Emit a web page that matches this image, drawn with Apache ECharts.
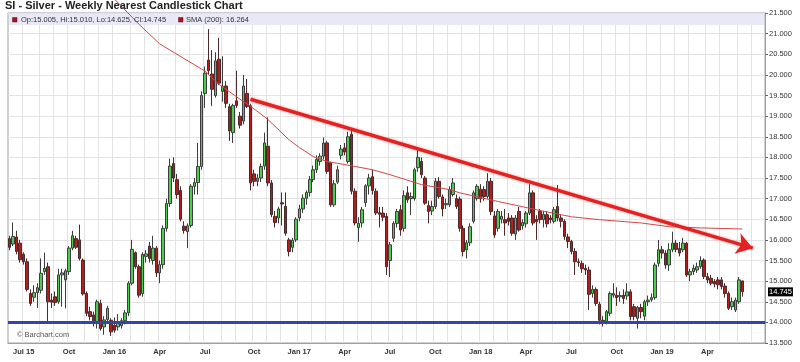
<!DOCTYPE html>
<html><head><meta charset="utf-8">
<script src="https://cdn.jsdelivr.net/npm/echarts@6/dist/echarts.min.js"></script>
<style>html,body{margin:0;padding:0;background:#fff}#c{width:800px;height:362px}</style>
</head><body><div id="c"></div>
<script>
// ---------- data ----------
const firstWeek = '2015-06-05';   // first weekly bar (Friday)
const weeksOnAxis = 217;          // 211 bars + empty weeks to the right edge
// weekly bars: [open, high, low, close]
const ohlc = [
[16.03,16.10,15.75,15.82],[15.90,16.42,15.85,16.08],[16.07,16.22,15.65,15.72],[15.92,16.00,15.45,15.52],
[15.65,15.70,15.40,15.47],[15.47,15.55,14.75,14.80],[14.70,14.80,14.40,14.46],[14.61,14.90,14.50,14.72],
[14.72,14.95,14.35,14.84],[14.78,15.55,14.70,15.19],[15.23,15.69,15.15,15.31],[15.35,15.45,14.00,14.50],
[14.54,14.70,14.35,14.49],[14.62,14.75,14.40,14.48],[14.50,15.30,14.45,15.15],[15.15,15.30,14.38,15.20],
[15.03,15.30,14.34,15.25],[15.23,15.85,15.15,15.80],[15.80,16.22,15.75,16.10],[16.03,16.10,15.78,15.82],
[16.00,16.37,15.50,15.55],[15.51,15.55,14.65,14.69],[14.70,14.75,14.15,14.22],[14.26,14.38,14.05,14.14],
[14.18,14.26,13.90,13.97],[13.97,14.55,13.85,14.50],[14.46,14.55,13.80,13.85],[13.89,14.15,13.70,14.06],
[14.07,14.40,14.00,14.34],[14.05,14.10,13.67,13.77],[13.93,14.12,13.75,13.81],[13.89,14.20,13.80,13.99],
[13.92,14.10,13.85,14.04],[14.04,14.30,13.95,14.23],[14.23,15.00,14.15,14.95],[14.95,16.00,14.90,15.77],
[15.69,15.72,15.30,15.35],[15.35,15.40,14.60,14.66],[14.70,15.70,14.62,15.65],[15.60,15.75,15.45,15.66],
[15.85,15.95,15.45,15.55],[15.50,16.10,15.40,15.80],[15.80,15.85,15.10,15.20],[15.20,15.50,14.95,15.40],
[15.40,16.35,15.30,16.28],[16.28,17.00,16.20,16.88],[16.88,17.97,16.80,17.79],[17.85,18.00,17.40,17.50],
[17.46,17.60,17.00,17.10],[17.20,17.30,16.45,16.50],[16.33,16.45,16.15,16.23],[16.20,16.40,15.80,16.34],
[16.35,17.35,16.30,17.30],[17.30,17.50,17.10,17.39],[17.39,18.35,17.10,17.78],[17.78,19.60,17.70,19.50],
[19.55,20.20,19.20,20.04],[20.36,21.11,20.00,20.10],[20.02,20.60,19.25,19.65],[19.50,20.55,19.45,20.34],
[20.38,20.90,19.75,19.80],[19.60,20.45,19.35,19.72],[19.73,19.85,19.20,19.31],[19.23,19.30,18.40,18.64],
[18.60,19.30,18.35,19.26],[19.37,20.10,19.20,19.26],[19.00,19.10,18.70,18.78],[18.88,20.00,18.80,19.73],
[19.55,19.90,19.20,19.23],[19.25,19.30,17.20,17.38],[17.60,17.70,17.30,17.42],[17.42,17.60,17.30,17.50],
[17.50,17.85,17.40,17.78],[17.79,18.60,17.70,18.35],[18.27,18.97,17.30,17.38],[17.38,17.45,16.55,16.61],
[16.57,16.70,16.30,16.42],[16.53,16.80,16.40,16.75],[16.90,17.15,16.35,16.87],[16.81,17.15,16.10,16.16],
[16.00,16.05,15.60,15.72],[15.82,16.05,15.70,15.99],[16.00,16.55,15.95,16.50],[16.53,16.85,16.45,16.75],
[16.75,17.10,16.65,17.01],[17.01,17.20,16.85,17.15],[17.15,17.55,17.05,17.46],[17.46,17.80,17.40,17.70],
[17.70,18.05,17.62,17.95],[17.90,18.10,17.80,18.03],[18.03,18.48,17.95,18.35],[18.35,18.40,17.60,17.66],
[17.87,17.90,16.80,16.85],[16.85,17.45,16.80,17.36],[17.40,17.80,17.35,17.70],[18.05,18.30,17.95,18.20],
[18.23,18.35,18.05,18.13],[17.90,18.62,17.85,18.50],[18.56,18.65,17.10,17.18],[17.18,17.25,16.35,16.41],
[16.30,16.55,15.95,16.40],[16.41,16.80,16.30,16.73],[16.90,17.35,16.80,17.31],[17.31,17.60,17.10,17.50],
[17.53,17.70,17.10,17.20],[17.18,17.25,16.60,16.65],[16.66,16.80,16.30,16.62],[16.65,16.80,16.45,16.55],
[16.57,16.65,15.15,15.35],[15.50,15.95,15.10,15.88],[16.04,16.45,15.95,16.40],[16.40,16.75,16.30,16.69],
[16.73,16.85,16.10,16.24],[16.28,17.20,16.20,17.07],[17.14,17.30,16.90,16.97],[17.00,17.15,16.60,17.05],
[17.00,17.75,16.95,17.70],[17.75,18.19,17.65,18.00],[17.90,18.00,17.50,17.58],[17.50,17.55,16.85,16.89],
[16.83,16.95,16.40,16.69],[16.70,16.95,16.60,16.81],[16.81,17.50,16.75,17.42],[17.42,17.52,17.00,17.05],
[17.04,17.10,16.57,16.75],[16.85,17.00,16.75,16.88],[16.85,17.30,16.80,17.22],[17.10,17.50,17.05,17.38],
[17.00,17.10,16.75,16.81],[16.99,17.05,16.20,16.28],[16.28,16.35,15.60,15.72],[15.76,16.00,15.55,15.93],
[15.93,16.40,15.85,16.32],[16.45,17.20,16.40,17.14],[17.00,17.35,16.95,17.30],[17.23,17.35,16.90,17.00],
[17.22,17.30,16.95,17.05],[17.05,17.62,17.00,17.42],[17.42,17.50,16.60,16.69],[16.58,16.70,16.05,16.12],
[16.28,16.75,16.20,16.69],[16.50,16.70,16.40,16.57],[16.49,16.75,16.10,16.41],[16.53,16.65,16.35,16.45],
[16.53,16.60,16.10,16.16],[16.14,16.60,16.00,16.53],[16.69,16.80,16.20,16.24],[16.34,16.50,16.25,16.42],
[16.39,16.70,16.30,16.65],[16.65,17.35,16.60,17.14],[17.14,17.20,16.35,16.41],[16.50,16.60,16.00,16.44],
[16.69,16.75,16.40,16.49],[16.49,16.70,16.30,16.62],[16.61,16.70,16.30,16.39],[16.53,16.60,16.40,16.49],
[16.45,16.80,16.40,16.73],[16.81,17.33,16.45,16.53],[16.53,16.60,16.30,16.45],[16.45,16.50,16.00,16.08],
[16.07,16.15,15.80,15.96],[15.96,16.00,15.65,15.72],[15.72,15.80,15.15,15.47],[15.47,15.55,15.35,15.45],
[15.43,15.50,15.20,15.30],[15.31,15.40,15.15,15.27],[15.27,15.35,14.30,14.68],[14.70,14.90,14.60,14.80],
[14.80,14.85,14.40,14.46],[14.44,14.50,13.95,14.05],[14.05,14.15,13.90,14.01],[14.01,14.30,13.95,14.26],
[14.22,14.75,14.15,14.70],[14.66,14.95,14.60,14.70],[14.66,14.85,14.40,14.60],[14.62,14.75,14.50,14.65],
[14.66,14.80,14.45,14.58],[14.64,14.95,14.55,14.74],[14.74,14.80,14.05,14.14],[14.38,14.45,14.05,14.14],
[14.10,14.40,13.85,14.36],[14.36,14.45,14.10,14.26],[14.15,14.55,14.05,14.50],[14.50,14.65,14.40,14.54],
[14.55,14.70,14.50,14.60],[14.60,15.45,14.55,15.39],[15.43,16.00,15.35,15.76],[15.76,15.85,15.55,15.68],
[15.68,15.75,15.30,15.39],[15.39,15.92,15.25,15.76],[15.76,16.20,15.70,15.92],[15.92,16.00,15.70,15.77],
[15.79,15.95,15.60,15.68],[15.76,16.05,15.70,15.92],[15.92,15.95,15.10,15.15],[15.15,15.30,15.00,15.23],
[15.23,15.40,15.15,15.31],[15.27,15.45,15.20,15.35],[15.35,15.60,15.30,15.50],[15.51,15.55,15.05,15.11],
[15.11,15.20,14.95,15.03],[15.07,15.15,14.90,14.95],[14.99,15.05,14.85,14.93],[15.03,15.10,14.80,14.91],
[15.03,15.10,14.80,14.87],[14.88,14.95,14.60,14.70],[14.70,14.75,14.30,14.34],[14.38,14.60,14.30,14.50],
[14.30,14.60,14.25,14.54],[14.50,15.10,14.45,15.03],[15.005,15.010,14.625,14.745]
];
// 200-week SMA, read at these week positions: [weekIndex, value]
const smaPoints = [[22,22.45],[30,21.84],[37,21.23],[43,20.75],[56,20.09],[60,19.77],[66,19.41],[69,19.24],
[74,18.92],[80,18.43],[83,18.24],[87,18.02],[91,17.90],[99,17.78],[104,17.70],[109,17.58],[118,17.34],
[126,17.22],[129,17.14],[140,16.93],[151,16.73],[161,16.56],[169,16.49],[181,16.41],[189,16.32],[198,16.29],[210,16.264]];
// hand-drawn trend line: [weekIndex, price]
const trendStart = [69, 19.41];
const trendEnd = [213, 15.80];
const supportLevel = 14.0;
const tickLabels = [['2015-07-03','Jul 15'],['2015-10-02','Oct'],['2016-01-01','Jan 16'],['2016-04-01','Apr'],
['2016-07-01','Jul'],['2016-10-07','Oct'],['2017-01-06','Jan 17'],['2017-04-07','Apr'],['2017-07-07','Jul'],
['2017-10-06','Oct'],['2018-01-05','Jan 18'],['2018-04-06','Apr'],['2018-07-06','Jul'],['2018-10-05','Oct'],
['2019-01-04','Jan 19'],['2019-04-05','Apr']];
const yMin = 13.5, yMax = 21.5, yStep = 0.5;

// ---------- build ----------
const t0 = Date.parse(firstWeek + 'T00:00:00Z');
const categories = [];
for (let i = 0; i < weeksOnAxis; i++) categories.push(new Date(t0 + i * 7 * 86400000).toISOString().slice(0, 10));
const labelMap = new Map(tickLabels);
const monthStart = new Set(categories.filter((d, i) => i > 0 && d.slice(0, 7) !== categories[i - 1].slice(0, 7)));
const candleData = ohlc.map(r => [r[0], r[3], r[2], r[1]]);
const last = ohlc[ohlc.length - 1];
const smaLast = smaPoints[smaPoints.length - 1][1];
const FONT = '"Liberation Sans", Arial, sans-serif';

const chart = echarts.init(document.getElementById('c'), null, {renderer: 'canvas'});
chart.setOption({
  animation: false,
  backgroundColor: '#fff',
  textStyle: {fontFamily: FONT},
  grid: {left: 8, right: 35, top: 13, bottom: 19, show: true, borderColor: '#a0a0a0', borderWidth: 1, containLabel: false},
  xAxis: {
    type: 'category', data: categories, boundaryGap: true,
    axisLine: {show: true, lineStyle: {color: '#a0a0a0'}},
    axisTick: {show: false},
    axisLabel: {
      interval: (idx, val) => labelMap.has(val),
      formatter: val => labelMap.get(val) || '',
      fontSize: 7.5, fontWeight: 'bold', color: '#333', margin: 5, fontFamily: FONT
    },
    splitLine: {show: true, interval: (idx, val) => monthStart.has(val), lineStyle: {color: '#e3e3e3', width: 1}}
  },
  yAxis: {
    type: 'value', position: 'right', min: yMin, max: yMax, interval: yStep, scale: true,
    axisLine: {show: true, lineStyle: {color: '#a0a0a0'}},
    axisTick: {show: true, length: 3, lineStyle: {color: '#666'}},
    axisLabel: {formatter: v => v.toFixed(3), fontSize: 7.5, color: '#333', margin: 4, fontFamily: FONT},
    splitLine: {show: true, lineStyle: {color: '#e3e3e3', width: 1}}
  },
  series: [
    {
      type: 'candlestick', data: candleData, barWidth: 3, z: 3,
      itemStyle: {color: '#4dcc4d', color0: '#b01e1e', borderColor: '#3d3d3d', borderColor0: '#4a2a2a', borderWidth: 1},
      markLine: {
        silent: true, symbol: 'none', animation: false,
        data: [
          {yAxis: supportLevel, lineStyle: {color: '#3444ae', width: 3, type: 'solid'}, label: {show: false}},
          {yAxis: last[3], lineStyle: {color: 'rgba(0,0,0,0)', width: 1}, label: {show: true, position: 'end', distance: 3,
            formatter: last[3].toFixed(3), backgroundColor: '#000', color: '#fff', padding: [1, 1, 0, 1], fontSize: 7.5, fontFamily: FONT}}
        ]
      }
    },
    {
      type: 'line', data: smaPoints.map(p => [categories[p[0]], p[1]]), showSymbol: false, clip: false, z: 4,
      lineStyle: {color: '#d24848', width: 1}, silent: true,
      markLine: {
        silent: true, animation: false, symbol: ['none', 'arrow'], symbolSize: 16,
        label: {show: false},
        lineStyle: {color: '#e42222', width: 3.5, type: 'solid', shadowColor: 'rgba(255,60,60,0.45)', shadowBlur: 3},
        itemStyle: {color: '#e42222'},
        data: [[{coord: [categories[trendStart[0]], trendStart[1]], symbol: 'none'},
                {coord: [categories[trendEnd[0]], trendEnd[1]], symbol: 'arrow', symbolSize: 16}]]
      }
    }
  ],
  graphic: [
    {type: 'rect', z: 1, shape: {x: 9, y: 14, width: 755, height: 11}, style: {fill: '#e8e8f7'}},
    {type: 'rect', z: 10, shape: {x: 12.5, y: 17.5, width: 4.5, height: 4.5}, style: {fill: '#a51818', stroke: '#5a0c0c', lineWidth: 0.5}},
    {type: 'text', z: 10, left: 21, top: 15.5, style: {text: 'Op:' + last[0].toFixed(3) + ', Hi:' + last[1].toFixed(3) + ', Lo:' + last[2].toFixed(3) + ', Cl:' + last[3].toFixed(3), font: '7.5px ' + FONT, fill: '#333'}},
    {type: 'rect', z: 10, shape: {x: 178.5, y: 17.5, width: 4.5, height: 4.5}, style: {fill: '#a51818', stroke: '#5a0c0c', lineWidth: 0.5}},
    {type: 'text', z: 10, left: 186, top: 15.5, style: {text: 'SMA (200): ' + smaLast.toFixed(3), font: '7.5px ' + FONT, fill: '#333'}},
    {type: 'text', z: 10, left: 5, top: 0, style: {text: 'SI - Silver - Weekly Nearest Candlestick Chart', font: 'bold 11px ' + FONT, fill: '#222'}},
    {type: 'text', z: 10, left: 17, top: 331, style: {text: '\u00a9 Barchart.com', font: '7.5px ' + FONT, fill: '#555'}}
  ]
});
</script>
</body></html>
